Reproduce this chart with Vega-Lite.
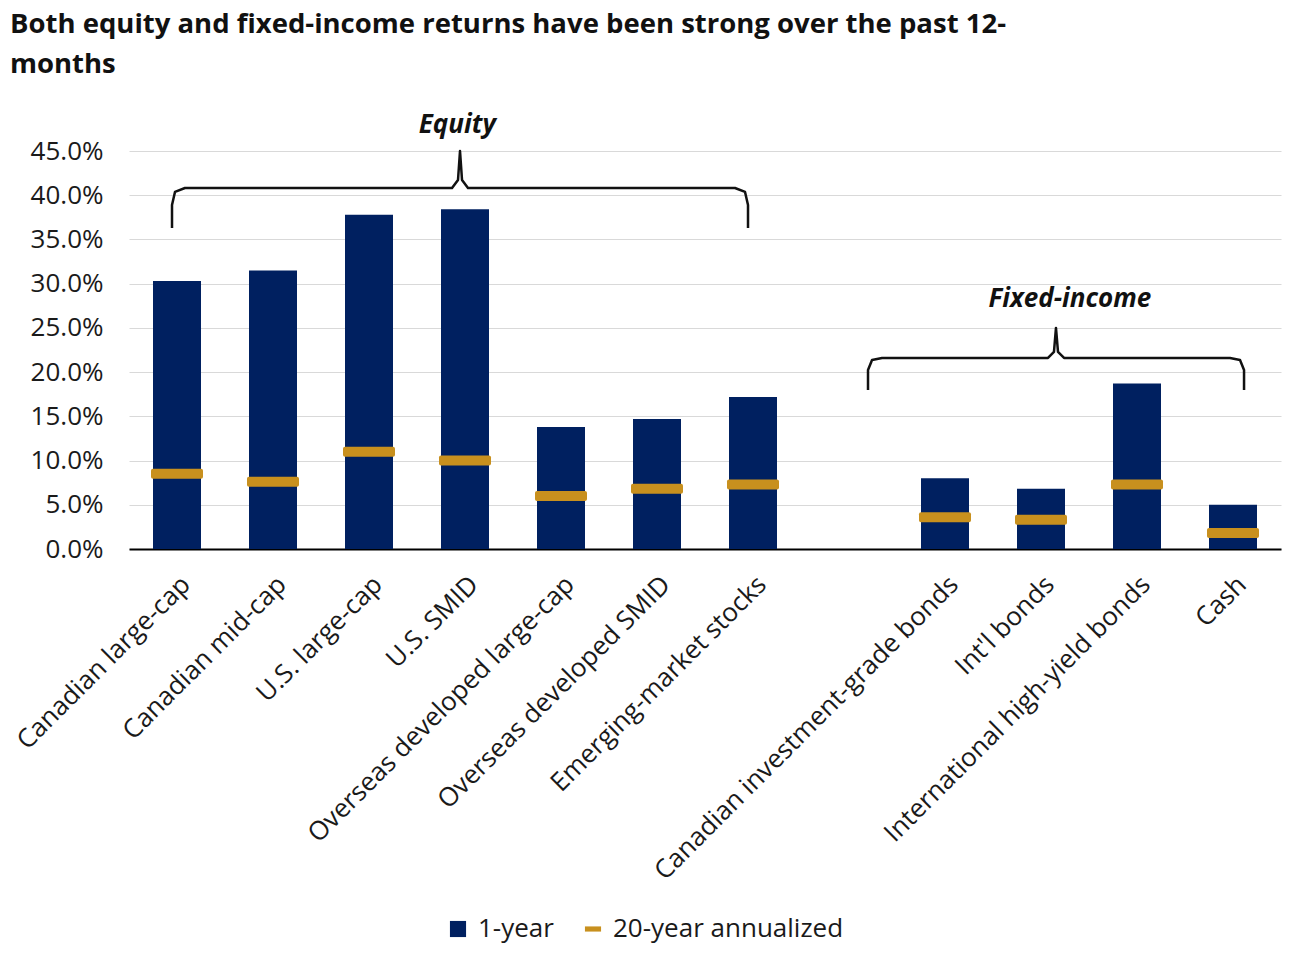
{
  "$schema": "https://vega.github.io/schema/vega-lite/v6.json",
  "autosize": "none",
  "width": 1152,
  "height": 398,
  "padding": {"left": 129, "top": 151, "right": 11, "bottom": 410},
  "background": "white",
  "title": {
    "text": ["Both equity and fixed-income returns have been strong over the past 12-", "months"],
    "anchor": "start",
    "frame": "group",
    "dx": -119,
    "font": "Open Sans",
    "fontSize": 27.5,
    "fontWeight": "bold",
    "color": "#111111",
    "lineHeight": 40,
    "offset": 34
  },
  "datasets": {
    "returns": [
      {"cat": "Canadian large-cap", "one": 30.3, "twenty": 8.5},
      {"cat": "Canadian mid-cap", "one": 31.5, "twenty": 7.6},
      {"cat": "U.S. large-cap", "one": 37.8, "twenty": 11.0},
      {"cat": "U.S. SMID", "one": 38.4, "twenty": 10.0},
      {"cat": "Overseas developed large-cap", "one": 13.8, "twenty": 6.0},
      {"cat": "Overseas developed SMID", "one": 14.7, "twenty": 6.8},
      {"cat": "Emerging-market stocks", "one": 17.2, "twenty": 7.3},
      {"cat": "Canadian investment-grade bonds", "one": 8.0, "twenty": 3.6},
      {"cat": "Int'l bonds", "one": 6.8, "twenty": 3.3},
      {"cat": "International high-yield bonds", "one": 18.7, "twenty": 7.3},
      {"cat": "Cash", "one": 5.0, "twenty": 1.8}
    ],
    "braces": [
      {"g": "eq", "o": 1, "x": 0.448, "y": 36.3},
      {"g": "eq", "o": 2, "x": 0.448, "y": 38.9},
      {"g": "eq", "o": 3, "x": 0.479, "y": 40.37},
      {"g": "eq", "o": 4, "x": 0.583, "y": 40.82},
      {"g": "eq", "o": 5, "x": 3.365, "y": 40.82},
      {"g": "eq", "o": 6, "x": 3.427, "y": 41.72},
      {"g": "eq", "o": 7, "x": 3.448, "y": 45.0},
      {"g": "eq", "o": 8, "x": 3.469, "y": 41.72},
      {"g": "eq", "o": 9, "x": 3.531, "y": 40.82},
      {"g": "eq", "o": 10, "x": 6.3125, "y": 40.82},
      {"g": "eq", "o": 11, "x": 6.417, "y": 40.37},
      {"g": "eq", "o": 12, "x": 6.448, "y": 38.9},
      {"g": "eq", "o": 13, "x": 6.448, "y": 36.3},
      {"g": "fi", "o": 1, "x": 7.698, "y": 17.98},
      {"g": "fi", "o": 2, "x": 7.698, "y": 20.24},
      {"g": "fi", "o": 3, "x": 7.74, "y": 21.37},
      {"g": "fi", "o": 4, "x": 7.844, "y": 21.6},
      {"g": "fi", "o": 5, "x": 9.573, "y": 21.6},
      {"g": "fi", "o": 6, "x": 9.635, "y": 22.28},
      {"g": "fi", "o": 7, "x": 9.656, "y": 24.99},
      {"g": "fi", "o": 8, "x": 9.677, "y": 22.28},
      {"g": "fi", "o": 9, "x": 9.74, "y": 21.6},
      {"g": "fi", "o": 10, "x": 11.469, "y": 21.6},
      {"g": "fi", "o": 11, "x": 11.573, "y": 21.37},
      {"g": "fi", "o": 12, "x": 11.615, "y": 20.24},
      {"g": "fi", "o": 13, "x": 11.615, "y": 17.98}
    ],
    "groups": [
      {"label": "Equity", "x": 3.42, "y": 47.9},
      {"label": "Fixed-income", "x": 9.8, "y": 28.27}
    ]
  },
  "layer": [
    {
      "data": {"name": "returns"},
      "mark": {"type": "bar", "color": "#002060"},
      "encoding": {
        "x": {
          "field": "cat",
          "type": "nominal",
          "sort": null,
          "scale": {
            "domain": ["Canadian large-cap", "Canadian mid-cap", "U.S. large-cap", "U.S. SMID", "Overseas developed large-cap", "Overseas developed SMID", "Emerging-market stocks", " ", "Canadian investment-grade bonds", "Int'l bonds", "International high-yield bonds", "Cash"],
            "paddingInner": 0.5,
            "paddingOuter": 0.25
          },
          "axis": {
            "title": null,
            "labelAngle": -45,
            "labelFont": "Open Sans",
            "labelFontSize": 26,
            "labelColor": "#1a1a1a",
            "labelPadding": 22,
            "ticks": false,
            "domain": true,
            "domainColor": "#000000",
            "domainWidth": 2,
            "labelLimit": 600
          }
        },
        "y": {
          "field": "one",
          "type": "quantitative",
          "scale": {"domain": [0, 45], "nice": false},
          "axis": {
            "title": null,
            "values": [0, 5, 10, 15, 20, 25, 30, 35, 40, 45],
            "labelExpr": "format(datum.value, '.1f') + '%'",
            "labelFont": "Open Sans",
            "labelFontSize": 26,
            "labelColor": "#1a1a1a",
            "labelPadding": 26,
            "ticks": false,
            "domain": false,
            "grid": true,
            "gridColor": "#d9d9d9",
            "gridWidth": 1
          }
        },
        "color": {
          "datum": "1-year",
          "type": "nominal",
          "scale": {"domain": ["1-year", "20-year annualized"], "range": ["#002060", "#c8901e"]},
          "legend": {
            "title": null,
            "orient": "none",
            "direction": "horizontal",
            "legendX": 316,
            "legendY": 765,
            "labelFont": "Open Sans",
            "labelFontSize": 26,
            "labelColor": "#1a1a1a",
            "labelLimit": 600,
            "symbolSize": 260,
            "columnPadding": 26,
            "labelOffset": 7,
            "encode": {
              "symbols": {
                "update": {
                  "shape": {"signal": "datum.value === '1-year' ? 'square' : 'M-1,-0.32H1V0.32H-1Z'"},
                  "strokeWidth": {"value": 0},
                  "opacity": {"value": 1}
                }
              }
            }
          }
        }
      }
    },
    {
      "data": {"name": "returns"},
      "mark": {"type": "tick", "size": 52, "thickness": 10, "cornerRadius": 2, "orient": "horizontal", "opacity": 1},
      "encoding": {
        "x": {
          "field": "cat",
          "type": "nominal",
          "sort": null,
          "scale": {
            "domain": ["Canadian large-cap", "Canadian mid-cap", "U.S. large-cap", "U.S. SMID", "Overseas developed large-cap", "Overseas developed SMID", "Emerging-market stocks", " ", "Canadian investment-grade bonds", "Int'l bonds", "International high-yield bonds", "Cash"],
            "paddingInner": 0.5,
            "paddingOuter": 0.25
          },
          "axis": null
        },
        "y": {"field": "twenty", "type": "quantitative", "scale": {"domain": [0, 45], "nice": false}},
        "color": {"datum": "20-year annualized", "type": "nominal"}
      }
    },
    {
      "data": {"name": "braces"},
      "mark": {"type": "line", "color": "#111111", "strokeWidth": 2.5, "interpolate": "linear", "strokeJoin": "round"},
      "encoding": {
        "x": {"field": "x", "type": "quantitative", "scale": {"domain": [0, 12], "nice": false, "zero": false}, "axis": null},
        "y": {"field": "y", "type": "quantitative", "scale": {"domain": [0, 45], "nice": false}},
        "detail": {"field": "g"},
        "order": {"field": "o"}
      }
    },
    {
      "data": {"name": "groups"},
      "mark": {"type": "text", "font": "Open Sans", "fontSize": 26, "fontWeight": "bold", "fontStyle": "italic", "color": "#111111", "baseline": "middle", "align": "center"},
      "encoding": {
        "x": {"field": "x", "type": "quantitative", "scale": {"domain": [0, 12], "nice": false, "zero": false}, "axis": null},
        "y": {"field": "y", "type": "quantitative", "scale": {"domain": [0, 45], "nice": false}},
        "text": {"field": "label"}
      }
    }
  ],
  "resolve": {"scale": {"x": "independent"}},
  "config": {"view": {"stroke": null}}
}
